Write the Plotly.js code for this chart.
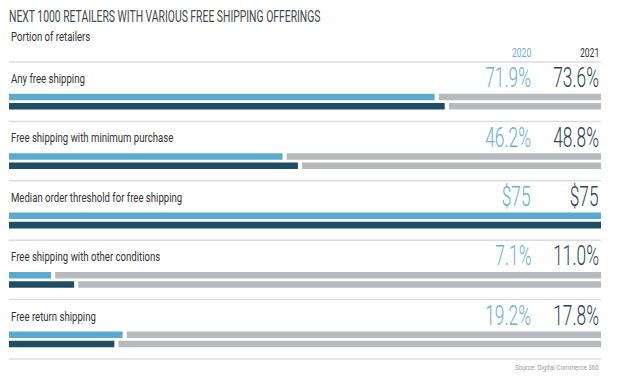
<!DOCTYPE html>
<html>
<head>
<meta charset="utf-8">
<script src="https://cdn.plot.ly/plotly-3.0.1.min.js"></script>
<style>html,body{margin:0;padding:0;background:#fff;}#chart{width:620px;height:381px;}</style>
</head>
<body>
<div id="chart"></div>
<script>
// ---- data ----
const categories = [
  'Any free shipping',
  'Free shipping with minimum purchase',
  'Median order threshold for free shipping',
  'Free shipping with other conditions',
  'Free return shipping'
];
const values2020 = [71.9, 46.2, 100, 7.1, 19.2];
const values2021 = [73.6, 48.8, 100, 11.0, 17.8];
const labels2020 = ['71.9%', '46.2%', '$75', '7.1%', '19.2%'];
const labels2021 = ['73.6%', '48.8%', '$75', '11.0%', '17.8%'];
const seriesNames = ['2020', '2021'];

// ---- style ----
const C2020 = '#5aa9cf', C2021 = '#1f4d64', CGREY = '#b6b9bd';
const T2020 = '#6cb0d5', T2021 = '#2c4452';
const FONT = 'Roboto, "Liberation Sans", sans-serif';
const GAP = 0.7;       // gap between value bar and remainder (x units)
const BW = 0.11;       // bar thickness (row units)
const OFF20 = -0.13, OFF21 = 0.026;
// horizontal squeeze factors to imitate the condensed typeface
const SQ = {title: 0.61, label: 0.8, value: 0.62, header: 0.66, source: 0.78};

const rows = categories.map((_, i) => i);
const remainder = vals => vals.map(v => v >= 100 ? 0 : 100 - v - GAP);
const remBase = vals => vals.map(v => v + GAP);

const traces = [
  {type: 'bar', orientation: 'h', y: rows, x: values2020, base: 0,
   offset: OFF20, width: BW, marker: {color: C2020, line: {width: 0}}, name: seriesNames[0]},
  {type: 'bar', orientation: 'h', y: rows, x: remainder(values2020), base: remBase(values2020),
   offset: OFF20, width: BW, marker: {color: CGREY, line: {width: 0}}, showlegend: false},
  {type: 'bar', orientation: 'h', y: rows, x: values2021, base: 0,
   offset: OFF21, width: BW, marker: {color: C2021, line: {width: 0}}, name: seriesNames[1]},
  {type: 'bar', orientation: 'h', y: rows, x: remainder(values2021), base: remBase(values2021),
   offset: OFF21, width: BW, marker: {color: CGREY, line: {width: 0}}, showlegend: false}
];

const X20 = (533 - 9) / 592;
const annotations = [];
const squeeze = [];
function addAnn(a, sq) { annotations.push(a); squeeze.push(sq); }
const shapes = [];
categories.forEach((c, i) => {
  addAnn({xref: 'paper', yref: 'y', x: 0, y: i - 0.38, text: c, showarrow: false, align: 'left',
    xanchor: 'left', yanchor: 'middle', font: {family: FONT, size: 12, color: '#333'}}, SQ.label);
  addAnn({xref: 'paper', yref: 'y', x: X20, y: i - 0.40, text: labels2020[i], showarrow: false, align: 'right',
    xanchor: 'right', yanchor: 'middle', font: {family: FONT, size: 28, weight: 300, color: T2020}}, SQ.value);
  addAnn({xref: 'paper', yref: 'y', x: 1, y: i - 0.40, text: labels2021[i], showarrow: false, align: 'right',
    xanchor: 'right', yanchor: 'middle', font: {family: FONT, size: 28, weight: 300, color: T2021}}, SQ.value);
});
for (let i = 0; i <= categories.length; i++) {
  shapes.push({type: 'line', xref: 'paper', yref: 'y', x0: 0, x1: 1, y0: i - 0.665, y1: i - 0.665,
    line: {color: '#dcdcdc', width: 1.5}});
}
addAnn({xref: 'paper', yref: 'y', x: X20, y: -0.825, text: seriesNames[0], showarrow: false, align: 'right',
  xanchor: 'right', yanchor: 'middle', font: {family: FONT, size: 13, color: T2020}}, SQ.header);
addAnn({xref: 'paper', yref: 'y', x: 1, y: -0.825, text: seriesNames[1], showarrow: false, align: 'right',
  xanchor: 'right', yanchor: 'middle', font: {family: FONT, size: 13, color: '#333'}}, SQ.header);
addAnn({xref: 'paper', yref: 'paper', x: 0, y: 1 - 37 / 381, text: 'Portion of retailers', showarrow: false, align: 'left',
  xanchor: 'left', yanchor: 'middle', font: {family: FONT, size: 12, color: '#333'}}, SQ.label);
addAnn({xref: 'paper', yref: 'paper', x: 1, y: 1 - 367 / 381, text: 'Source: Digital Commerce 360', showarrow: false, align: 'right',
  xanchor: 'right', yanchor: 'middle', font: {family: FONT, size: 8, color: '#9a9a9a'}}, SQ.source);

const layout = {
  width: 620, height: 381,
  margin: {l: 9, r: 19, t: 0, b: 0, pad: 0},
  paper_bgcolor: '#fff', plot_bgcolor: '#fff',
  showlegend: false,
  barmode: 'overlay',
  title: {text: 'NEXT 1000 RETAILERS WITH VARIOUS FREE SHIPPING OFFERINGS',
    x: 9 / 620, xanchor: 'left', xref: 'container', y: 1 - 16 / 381, yanchor: 'middle', yref: 'container',
    font: {family: FONT, size: 17, weight: 400, color: '#41474d'}},
  xaxis: {range: [0, 100], visible: false, fixedrange: true},
  yaxis: {range: [(381 - 101.5) / 59.4, -101.5 / 59.4], visible: false, fixedrange: true},
  annotations: annotations,
  shapes: shapes
};

function squeezeText(el, s) {
  if (!el) return;
  const x = parseFloat(el.getAttribute('x')) || 0;
  const prev = el.getAttribute('transform') || '';
  el.setAttribute('transform', (prev + ' translate(' + x + ',0) scale(' + s + ',1) translate(' + (-x) + ',0)').trim());
}

Plotly.newPlot('chart', traces, layout, {staticPlot: true, displayModeBar: false}).then(gd => {
  gd.querySelectorAll('g.annotation').forEach(g => {
    const idx = parseInt(g.getAttribute('data-index'), 10);
    squeezeText(g.querySelector('text.annotation-text'), squeeze[idx]);
  });
  squeezeText(gd.querySelector('text.gtitle'), SQ.title);
});
</script>
</body>
</html>
